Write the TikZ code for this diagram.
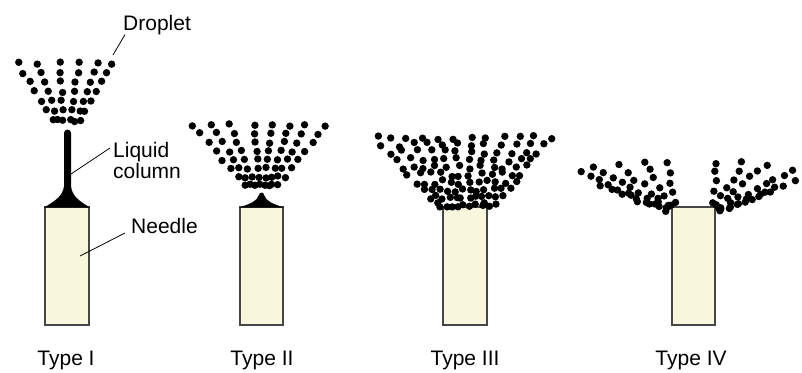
\documentclass[tikz,border=0pt]{standalone}
\usepackage{fontspec}
\setmainfont{Liberation Sans}
\usetikzlibrary{calc}

\definecolor{needlefill}{RGB}{248,247,222}
\definecolor{needleline}{RGB}{70,70,70}

% one spray: every ray is sx/sy/ex/ey/n, n drops from (sx,sy) out to (ex,ey)
\newcommand{\spray}[2]{%
  \foreach \sx/\sy/\ex/\ey/\n in {#2} {
    \foreach \i in {1,...,\n} {
      \pgfmathsetmacro{\px}{\sx+(\ex-\sx)*\i/\n+#1*rand}
      \pgfmathsetmacro{\py}{\sy+(\ey-\sy)*\i/\n+#1*rand}
      \fill [drop] (\px,-\py) circle (3.7);
    }
  }%
}

\begin{document}
\begin{tikzpicture}[x=1pt,y=1pt,
  needle/.style={draw=needleline,line width=1.3pt,fill=needlefill},
  drop/.style={fill=black},
  leader/.style={black,line width=0.8pt},
  lbl/.style={font=\fontsize{21}{21}\selectfont}]
\tikzstyle{every node}+=[inner sep=0pt]
\useasboundingbox (0,0) rectangle (802,-372);
\pgfmathsetseed{17}
% needles
\draw [needle] (45,-207) rectangle (89,-325);
\draw [needle] (240,-207) rectangle (283,-325);
\draw [needle] (443,-207) rectangle (487,-325);
\draw [needle] (672,-207) rectangle (715,-325);
% type I: cone and liquid column
\fill [black] (44,-207.5) .. controls (55,-201) and (63,-196) .. (64,-186)
  -- (64,-133) arc (180:0:3.5) -- (71,-186)
  .. controls (72,-196) and (79,-201) .. (90,-207.5) -- cycle;
% type II: short cone
\fill [black] (239,-207.5) .. controls (250,-204) and (257,-201) .. (259,-195)
  arc (180:0:2.5) .. controls (266,-201) and (273,-204) .. (284,-207.5) -- cycle;
% droplets
\spray{1.2}{58/130/18/63/7, 61/130/37/63/7, 64/130/60/63/7,
  69/130/79/63/7, 72/130/97/63/7, 75/130/112/63/7}
\spray{1.2}{253/194/193/125/8, 256/194/212/125/8, 258/194/230/125/8,
  261/194/254/125/8, 263/194/273/125/8, 266/194/289/125/8,
  268/194/305/125/8, 271/194/326/125/8}
\spray{2.5}{442/212/376/137/10, 446.5/212/391.8/137/10, 451/212/407.6/137/10,
  455.5/212/423.5/137/10, 460/212/439.3/137/10, 464.5/212/455.1/137/10,
  469/212/470.9/137/10, 473.5/212/486.7/137/10, 478/212/502.5/137/10,
  482.5/212/518.4/137/10, 487/212/534.2/137/10, 491.5/212/550/137/10}
\spray{1.8}{676/213/668/161/5, 676/213/643/162/6, 676/213/619/165/7,
  676/213/594/168/9, 676/213/580/173/10, 676/213/602/187/8}
\spray{1.8}{711/213/717/162/5, 711/213/743/163/6, 711/213/767/164/7,
  711/213/792/169/9, 711/213/794/181/9, 711/213/770/193/7}
% labels
\node [lbl,anchor=base west] (droplet) at (123,-30) {Droplet};
\node [lbl,anchor=west,align=left] (column) at (113,-160) {Liquid\\column};
\node [lbl,anchor=base west] (needlelbl) at (131,-233) {Needle};
\coordinate (dtip) at (113,-55);
\coordinate (ctip) at (71,-174);
\coordinate (ntip) at (80,-256);
\draw [leader] (dtip) -- ([xshift=2pt]droplet.south west);
\draw [leader] (ctip) -- ([shift={(-3,12)}]column.west);
\draw [leader] (ntip) -- ([xshift=-6pt]needlelbl.base west);
\node [lbl,anchor=base] (t1) at (66,-365) {Type I};
\node [lbl,anchor=base] (t2) at (262,-365) {Type II};
\node [lbl,anchor=base] (t3) at (465,-365) {Type III};
\node [lbl,anchor=base] (t4) at (691,-365) {Type IV};
\end{tikzpicture}
\end{document}
